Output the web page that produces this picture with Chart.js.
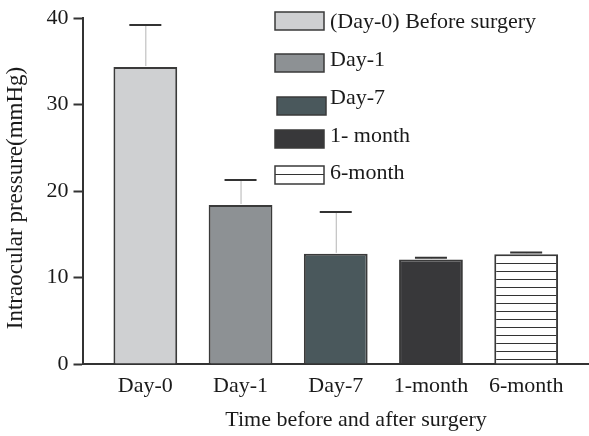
<!DOCTYPE html>
<html>
<head>
<meta charset="utf-8">
<script src="https://cdn.jsdelivr.net/npm/chart.js@4.4.1/dist/chart.umd.min.js"></script>
<style>
  html, body { margin: 0; padding: 0; background: #fff; }
  #wrap { width: 589px; height: 436px; }
</style>
</head>
<body>
<div id="wrap"><canvas id="chart" width="589" height="436"></canvas></div>
<script>
// values
const categories = ["Day-0", "Day-1", "Day-7", "1-month", "6-month"];
const legendLabels = ["(Day-0) Before surgery", "Day-1", "Day-7", "1- month", "6-month"];
const means = [34.35, 18.4, 12.75, 12.1, 12.7];
const errTop = [39.2, 21.3, 17.6, 12.3, 12.9];
const yTicks = [0, 10, 20, 30, 40];
const xTitle = "Time before and after surgery";
const yTitle = "Intraocular pressure(mmHg)";

const fills = ["#cfd0d2", "#8d9194", "#4a585c", "#38383a", null];
const edge = "#3a3a3a";
const serif = "'Liberation Serif', 'DejaVu Serif', serif";

function stripes() {
  const c = document.createElement("canvas");
  c.width = 8;
  c.height = 8;
  const g = c.getContext("2d");
  g.fillStyle = "#fff";
  g.fillRect(0, 0, 8, 8);
  g.fillStyle = "#333";
  g.fillRect(0, 7, 8, 1);
  return g.createPattern(c, "repeat");
}

const ctx = document.getElementById("chart").getContext("2d");
const barFills = fills.map((f) => f || stripes());

const errorBars = {
  id: "errorBars",
  afterDatasetsDraw(chart) {
    const { ctx } = chart;
    const xs = chart.scales.x, ys = chart.scales.y;
    ctx.save();
    means.forEach((m, i) => {
      const x = xs.getPixelForValue(i);
      const y0 = ys.getPixelForValue(m);
      const y1 = ys.getPixelForValue(errTop[i]);
      ctx.strokeStyle = "#b5b5b5";
      ctx.lineWidth = 1;
      ctx.beginPath();
      ctx.moveTo(x + 0.5, y0 - 1);
      ctx.lineTo(x + 0.5, y1);
      ctx.stroke();
      ctx.strokeStyle = "#333";
      ctx.lineWidth = 2;
      ctx.beginPath();
      ctx.moveTo(x - 16, y1);
      ctx.lineTo(x + 16, y1);
      ctx.stroke();
    });
    ctx.restore();
  },
};

// legend and axis titles sit off-centre in the figure, so they are drawn here
const legendBox = {
  id: "legendBox",
  afterDraw(chart) {
    const { ctx } = chart;
    const boxY = [21, 63, 106, 139, 175];
    const textY = [22, 60, 98, 136, 173];
    ctx.save();
    ctx.font = "22px " + serif;
    ctx.textBaseline = "middle";
    legendLabels.forEach((lab, i) => {
      const bx = i === 2 ? 277 : 275;
      const by = boxY[i] - 9;
      ctx.fillStyle = fills[i] || "#fff";
      ctx.fillRect(bx, by, 49, 18);
      if (!fills[i]) {
        ctx.fillStyle = "#333";
        ctx.fillRect(bx, by + 8, 49, 1);
      }
      ctx.strokeStyle = edge;
      ctx.lineWidth = 1.5;
      ctx.strokeRect(bx, by, 49, 18);
      ctx.fillStyle = "#1a1a1a";
      ctx.fillText(lab, 330, textY[i]);
    });

    ctx.textAlign = "center";
    ctx.fillText(xTitle, 356, 420);
    ctx.font = "23px " + serif;
    ctx.translate(16, 198);
    ctx.rotate(-Math.PI / 2);
    ctx.fillText(yTitle, 0, 0);
    ctx.restore();
  },
};

const chart = new Chart(ctx, {
  type: "bar",
  data: {
    datasets: [
      {
        label: "Intraocular pressure",
        data: means.map((v, i) => ({ x: i, y: v })),
        backgroundColor: barFills,
        borderColor: edge,
        borderWidth: 2,
        barPercentage: 0.67,
        categoryPercentage: 1,
      },
    ],
  },
  options: {
    responsive: false,
    animation: false,
    layout: { padding: { top: 18, left: 41.5, right: 0, bottom: 35.5 } },
    plugins: { legend: { display: false }, tooltip: { enabled: false } },
    scales: {
      x: {
        type: "linear",
        offset: false,
        min: -0.66,
        max: 4.66,
        afterBuildTicks: (s) => { s.ticks = categories.map((c, i) => ({ value: i })); },
        grid: { display: false, offset: false },
        border: { display: true, color: "#333", width: 2 },
        ticks: {
          padding: 1,
          color: "#1a1a1a",
          font: { family: serif, size: 22 },
          maxRotation: 0,
          autoSkip: false,
          callback: (v) => categories[v] ?? "",
        },
      },
      y: {
        min: 0,
        max: 40,
        afterBuildTicks: (s) => { s.ticks = yTicks.map((v) => ({ value: v })); },
        grid: { drawOnChartArea: false, tickLength: 9, tickColor: "#333", tickWidth: 2 },
        border: { display: true, color: "#333", width: 2 },
        ticks: {
          padding: 5,
          color: "#1a1a1a",
          font: { family: serif, size: 22 },
        },
      },
    },
  },
  plugins: [errorBars, legendBox],
});
</script>
</body>
</html>
